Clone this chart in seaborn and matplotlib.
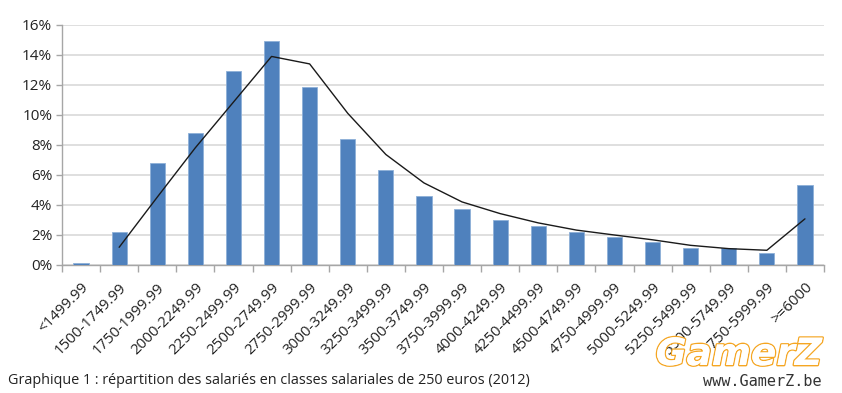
import matplotlib
matplotlib.use("Agg")
import matplotlib.pyplot as plt
import matplotlib.patheffects as pe
from matplotlib.ticker import FixedLocator, FuncFormatter
import pandas as pd
import seaborn as sns

# salary classes (euros) and share of employees (%)
categories = [
    "<1499.99", "1500-1749.99", "1750-1999.99", "2000-2249.99", "2250-2499.99",
    "2500-2749.99", "2750-2999.99", "3000-3249.99", "3250-3499.99", "3500-3749.99",
    "3750-3999.99", "4000-4249.99", "4250-4499.99", "4500-4749.99", "4750-4999.99",
    "5000-5249.99", "5250-5499.99", "5500-5749.99", "5750-5999.99", ">=6000",
]
share_pct = [0.1, 2.2, 6.75, 8.8, 12.9, 14.9, 11.85, 8.4, 6.3, 4.6,
             3.7, 3.0, 2.55, 2.15, 1.85, 1.5, 1.1, 1.07, 0.8, 5.3]
# trend line (2-period moving average), starts at the second class
trend_pct = [None, 1.15, 4.5, 7.8, 10.85, 13.9, 13.4, 10.1, 7.35, 5.45,
             4.18, 3.4, 2.78, 2.3, 1.97, 1.65, 1.28, 1.06, 0.95, 3.05]

BAR_COLOR = "#4f81bd"
GRID_COLOR = "#d9d9d9"
AXIS_COLOR = "#a6a6a6"

sns.set_theme(style="white")
plt.rcParams["font.family"] = ["Open Sans", "DejaVu Sans"]

df = pd.DataFrame({"classe": categories, "part": share_pct, "tendance": trend_pct})

fig = plt.figure(figsize=(8.42, 3.93), dpi=100)
ax = fig.add_axes([62 / 842, 1 - 264.5 / 393, (824 - 62) / 842, (264.5 - 25) / 393])

sns.barplot(data=df, x="classe", y="part", color=BAR_COLOR, saturation=1,
            width=0.4, edgecolor="#8eb0d8", linewidth=0.6, ax=ax, zorder=3)
trend = df.dropna(subset=["tendance"])
ax.plot(trend.index, trend["tendance"], color="#1a1a1a", linewidth=1.0, zorder=4)

ax.set_xlim(-0.5, len(categories) - 0.5)
ax.set_ylim(0, 16)
ax.set_yticks(range(0, 17, 2))
ax.yaxis.set_major_formatter(FuncFormatter(lambda v, _: f"{v:.0f}%"))
ax.grid(axis="y", color=GRID_COLOR, linewidth=1.2, zorder=0)
ax.set_axisbelow(True)
ax.set_xlabel("")
ax.set_ylabel("")

for side in ["top", "right"]:
    ax.spines[side].set_visible(False)
for side in ["left", "bottom"]:
    ax.spines[side].set_color(AXIS_COLOR)
    ax.spines[side].set_linewidth(1.0)

ax.tick_params(axis="y", which="major", length=4, width=1, color=AXIS_COLOR,
               labelsize=11, labelcolor="#222222", pad=3, left=True)
ax.set_xticks(range(len(categories)))
ax.set_xticklabels(categories, rotation=45, ha="right", rotation_mode="anchor",
                   fontsize=10.8, color="#222222")
ax.tick_params(axis="x", which="major", length=0, pad=11)
ax.xaxis.set_minor_locator(FixedLocator([i - 0.5 for i in range(len(categories) + 1)]))
ax.tick_params(axis="x", which="minor", length=5, width=1, color=AXIS_COLOR, bottom=True)

fig.text(8 / 842, 1 - 380 / 393,
         "Graphique 1 : répartition des salariés en classes salariales de 250 euros (2012)",
         fontsize=10.4, color="#222222", va="center", ha="left")

# watermark
wm = fig.text(822 / 842, 1 - 355 / 393, "GamerZ", fontsize=27, fontstyle="italic",
              fontweight="bold", color="white", ha="right", va="center",
              family="DejaVu Sans")
wm.set_path_effects([pe.withStroke(linewidth=2, foreground="#f5a623"), pe.Normal()])
fig.text(822 / 842, 1 - 381 / 393, "www.GamerZ.be", fontsize=11, color="#333333",
         ha="right", va="center", family="DejaVu Sans Mono")

fig.savefig("out.png", dpi=100)
